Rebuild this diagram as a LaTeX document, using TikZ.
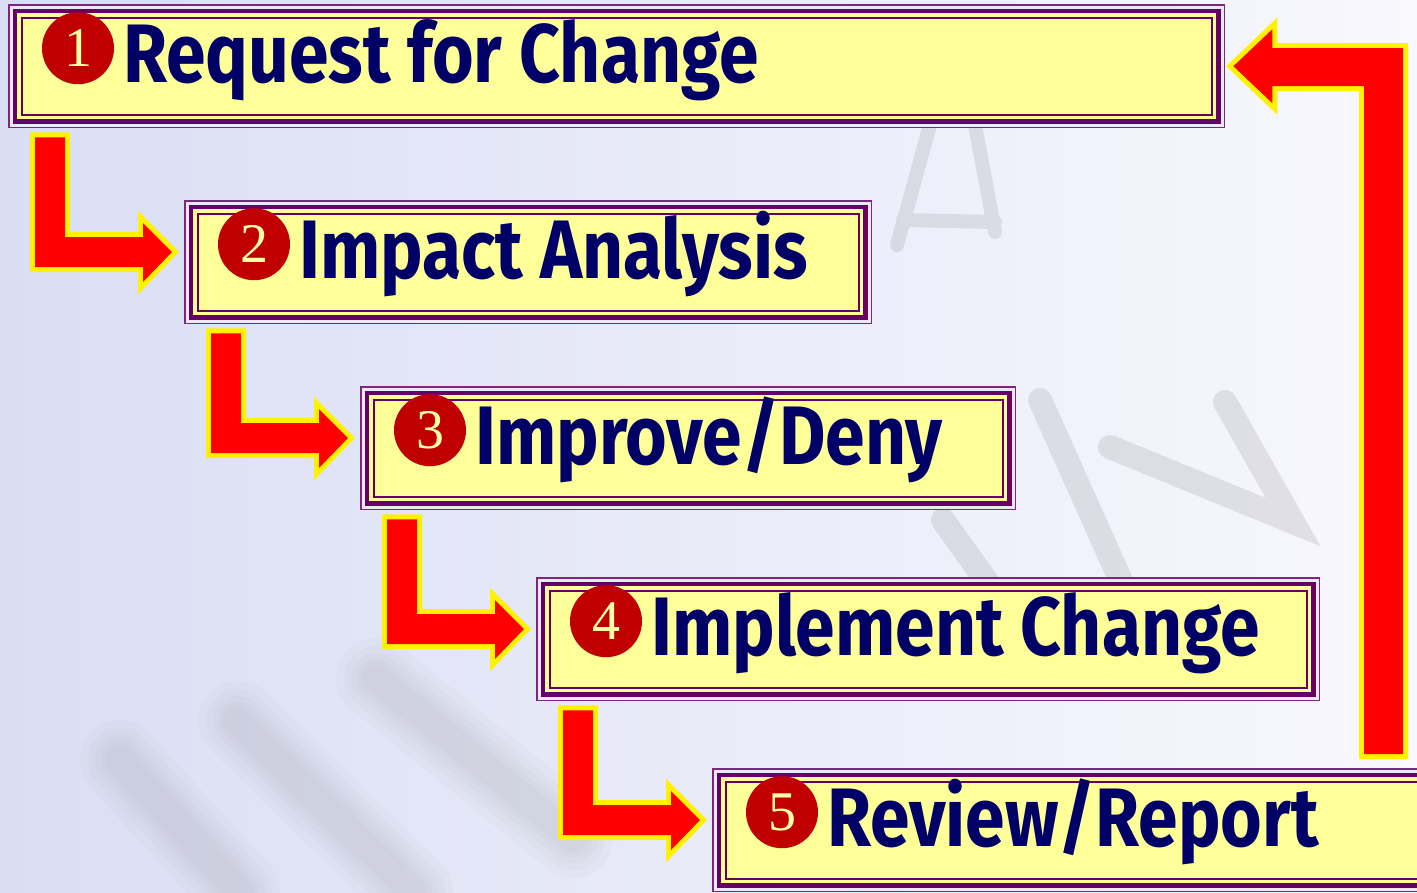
\documentclass[tikz,border=0pt]{standalone}
\usepackage{fontspec}
\usetikzlibrary{calc,positioning}

\newfontfamily\stepfont{Fira Sans}[FakeStretch=0.86]
\newfontfamily\numfont{Liberation Serif}

\definecolor{boxyellow}{HTML}{FFFF99}
\definecolor{rimpurple}{HTML}{660066}
\definecolor{rimlight}{HTML}{ECE8F4}
\definecolor{stepnavy}{HTML}{000066}
\definecolor{badgered}{HTML}{C00000}
\definecolor{badgetext}{HTML}{FFFFA8}
\definecolor{wmgray}{HTML}{9A9AA0}
\definecolor{bgleft}{HTML}{DADEF4}
\definecolor{bgright}{HTML}{F8F8FD}

\tikzset{
  stepbox/.style={rectangle, fill=boxyellow, inner sep=0pt, minimum height=124pt, anchor=north west},
  badge/.style={circle, fill=badgered, text=badgetext, minimum size=72pt, inner sep=0pt,
    font=\numfont\fontsize{56}{56}\selectfont},
  steplabel/.style={anchor=base west, inner sep=0pt, text=stepnavy,
    font=\stepfont\bfseries\fontsize{83}{90}\selectfont},
  flowarrow/.style={fill=red, preaction={draw=yellow, line width=10pt, line join=miter}},
  watermark/.style={draw=wmgray, opacity=0.24, line width=24pt, line cap=round},
}

% L-shaped arrow from the bottom of one box into the left side of the next
\newcommand\steparrow[2]{%
  \path[flowarrow] let \p1=([xshift=27pt,yshift=-9pt]#1.south west),
                       \p2=([xshift=-12pt,yshift=-52pt]#2.north west) in
    (\x1,\y1) -- (\x1+30pt,\y1) -- (\x1+30pt,\y2+15pt) -- (\x2-29pt,\y2+15pt)
    -- (\x2-29pt,\y2+29pt) -- (\x2,\y2) -- (\x2-29pt,\y2-30pt)
    -- (\x2-29pt,\y2-15pt) -- (\x1,\y2-15pt) -- cycle;}

\begin{document}
\begin{tikzpicture}[x=1pt,y=-1pt]
  \useasboundingbox (0,0) rectangle (1417,892);
  \clip (0,0) rectangle (1417,892);

  % background
  \shade[left color=bgleft, right color=bgright] (0,0) rectangle (1417,892);
  \draw[watermark, line width=14pt] (930,125) -- (897,245) (975,125) -- (995,232) (903,220) -- (995,222);
  \draw[watermark] (1040,400) -- (1125,590) (1110,447) -- (1293,522) -- (1225,402);
  \draw[watermark] (943,520) -- (1000,600);
  % soft strokes low on the left
  \foreach \w in {80,64,50,38,28} {
    \draw[watermark, line width=\w pt, opacity=0.05] (376,678) -- (573,838) (238,721) -- (413,892)
      (120,760) -- (240,892);
  }

  % the five steps
  \node[stepbox, minimum width=1217pt] (rfc)       at (8,4)     {};
  \node[stepbox, minimum width=688pt]  (impact)    at (184,200) {};
  \node[stepbox, minimum width=656pt]  (decide)    at (360,386) {};
  \node[stepbox, minimum width=784pt]  (implement) at (536,577) {};
  \node[stepbox, minimum width=740pt]  (review)    at (712,768) {};

  \foreach \b in {rfc,impact,decide,implement,review} {
    \draw[rimpurple!85, line width=1.6pt] ([shift={(0.8,0.8)}]\b.north west) rectangle ([shift={(-0.8,-0.8)}]\b.south east);
    \draw[rimlight, line width=3pt] ([shift={(3.1,3.1)}]\b.north west) rectangle ([shift={(-3.1,-3.1)}]\b.south east);
    \draw[rimpurple, line width=4.5pt] ([shift={(6.8,6.8)}]\b.north west) rectangle ([shift={(-6.8,-6.8)}]\b.south east);
    \draw[rimpurple, line width=2pt] ([shift={(13.5,13.5)}]\b.north west) rectangle ([shift={(-13.5,-13.5)}]\b.south east);
  }

  \node[badge] (n1) at ([xshift=70pt,yshift=18pt]rfc.west) {1};
  \node[badge] (n2) at ([xshift=70pt,yshift=18pt]impact.west) {2};
  \node[badge] (n3) at ([xshift=70pt,yshift=18pt]decide.west) {3};
  \node[badge] (n4) at ([xshift=70pt,yshift=18pt]implement.west) {4};
  \node[badge] (n5) at ([xshift=70pt,yshift=18pt]review.west) {5};

  \node[steplabel] (t1) at ([xshift=115pt,yshift=-16pt]rfc.west) {Request for Change};
  \node[steplabel] (t2) at ([xshift=115pt,yshift=-16pt]impact.west) {Impact Analysis};
  \node[steplabel] (t3) at ([xshift=115pt,yshift=-16pt]decide.west) {Improve/Deny};
  \node[steplabel] (t4) at ([xshift=115pt,yshift=-16pt]implement.west) {Implement Change};
  \node[steplabel] (t5) at ([xshift=115pt,yshift=-16pt]review.west) {Review/Report};

  % arrows between steps
  \steparrow{rfc}{impact}
  \steparrow{impact}{decide}
  \steparrow{decide}{implement}
  \steparrow{implement}{review}

  % back from the last step to the first
  \coordinate (back) at (1383.5,754);
  \path[flowarrow] let \p1=(back), \p2=([xshift=8pt]rfc.east) in
    (\x1-19.5pt,\y1) -- (\x1-19.5pt,\y2-20pt) -- (\x2+39pt,\y2-20pt)
    -- (\x2+39pt,\y2-37pt) -- (\x2,\y2) -- (\x2+39pt,\y2+37pt)
    -- (\x2+39pt,\y2+18pt) -- (\x1+19.5pt,\y2+18pt) -- (\x1+19.5pt,\y1) -- cycle;
\end{tikzpicture}
\end{document}
